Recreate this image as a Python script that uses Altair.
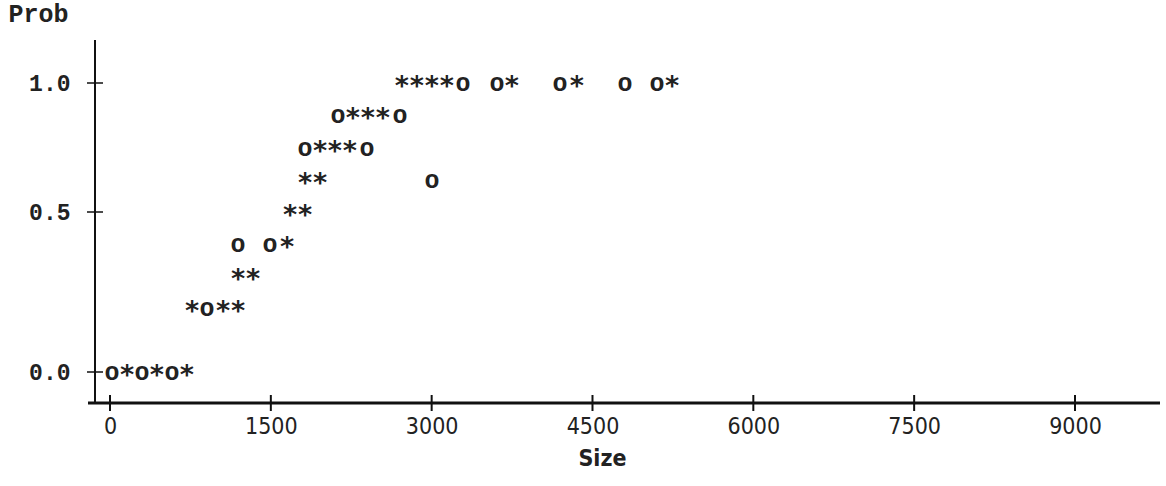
import altair as alt
import pandas as pd

# Character-plot points: size (x), probability row (y), plotted symbol
sizes = [2723, 2863, 3003, 3143, 3292, 3609, 3749, 4197, 4355, 4803, 5102, 5242,
         2126, 2266, 2406, 2546, 2705,
         1819, 1959, 2098, 2238, 2397,
         1819, 1959, 3003,
         1679, 1819,
         1194, 1492, 1651,
         1194, 1334,
         765, 905, 1054, 1194,
         19, 159, 298, 438, 578, 718]
probs = [1.0] * 12 + [0.875] * 5 + [0.75] * 5 + [0.625] * 3 + [0.5] * 2 + \
        [0.4] * 3 + [0.3] * 2 + [0.2] * 4 + [0.0] * 6
symbols = list("****oo*o*oo*") + list("o***o") + list("o***o") + list("**o") + \
          list("**") + list("oo*") + list("**") + list("*o**") + list("o*o*o*")

x_ticks = [0, 1500, 3000, 4500, 6000, 7500, 9000]
y_ticks = [0.0, 0.5, 1.0]

W, H = 1065, 363
MONO = "Liberation Mono"
NARROW = "'Liberation Sans Narrow', 'DejaVu Sans Condensed', 'DejaVu Sans Mono'"

df = pd.DataFrame({"Size": sizes, "Prob": probs, "sym": symbols})

xscale = alt.Scale(domain=[-140, 9793], nice=False, zero=False)
yscale = alt.Scale(domain=[0, 0.5, 1.0], range=[332, 172, 43], nice=False, zero=False)

xenc = alt.X("Size:Q", scale=xscale, axis=alt.Axis(
    values=x_ticks, format="d", ticks=False, tickSize=0, domain=False, grid=False,
    labelFont=NARROW, labelFontSize=23, labelColor="#222", labelPadding=12,
    title="Size", titleFont=NARROW, titleFontSize=23, titleFontWeight="bold",
    titleColor="#222", titleX=507, titleY=55, titleAlign="center", titleBaseline="middle"))
yenc = alt.Y("Prob:Q", scale=yscale, axis=alt.Axis(
    values=y_ticks, format=".1f", ticks=False, tickSize=0, grid=False, domain=False,
    labelFont=MONO, labelFontSize=23, labelFontWeight="bold", labelColor="#222", labelPadding=25,
    title="Prob", titleFont=MONO, titleFontSize=25, titleFontWeight="bold", titleColor="#222",
    titleAngle=0, titleAlign="left", titleX=-87, titleY=-27, titleBaseline="middle"))

base = alt.Chart(df)
circles = base.transform_filter(alt.datum.sym == "o").mark_text(
    font=MONO, fontSize=25, fontWeight="bold", color="#222", baseline="middle", align="center"
).encode(x=xenc, y=yenc, text="sym:N")
stars = base.transform_filter(alt.datum.sym == "*").mark_text(
    font="DejaVu Sans Mono", fontSize=27, fontWeight="bold", color="#222",
    baseline="middle", align="center", dy=4
).encode(x=xenc, y=yenc, text="sym:N")

one = alt.Data(values=[{"a": 1}])
xaxis_line = alt.Chart(one).mark_rule(color="#111", strokeWidth=3).encode(
    x=alt.value(-7), x2=alt.value(W), y=alt.value(H)
)
yaxis_line = alt.Chart(one).mark_rule(color="#111", strokeWidth=2).encode(
    x=alt.value(0), y=alt.value(0), y2=alt.value(H)
)

xt = alt.Chart(pd.DataFrame({"t": x_ticks})).mark_rule(color="#111", strokeWidth=2).encode(
    x=alt.X("t:Q", scale=xscale), y=alt.value(H - 8), y2=alt.value(H + 8)
)
yt = alt.Chart(pd.DataFrame({"t": y_ticks})).mark_rule(color="#111", strokeWidth=1.5).encode(
    y=alt.Y("t:Q", scale=yscale), x=alt.value(-8), x2=alt.value(8)
)

chart = alt.layer(circles, stars, xaxis_line, yaxis_line, xt, yt).properties(
    width=W, height=H,
    autosize=alt.AutoSizeParams(type="none"),
    padding={"left": 95, "top": 40, "right": 6, "bottom": 83},
).configure(background="white").configure_view(stroke=None, strokeWidth=0)

chart.save("out.html", embed_options={"renderer": "svg", "actions": False})
